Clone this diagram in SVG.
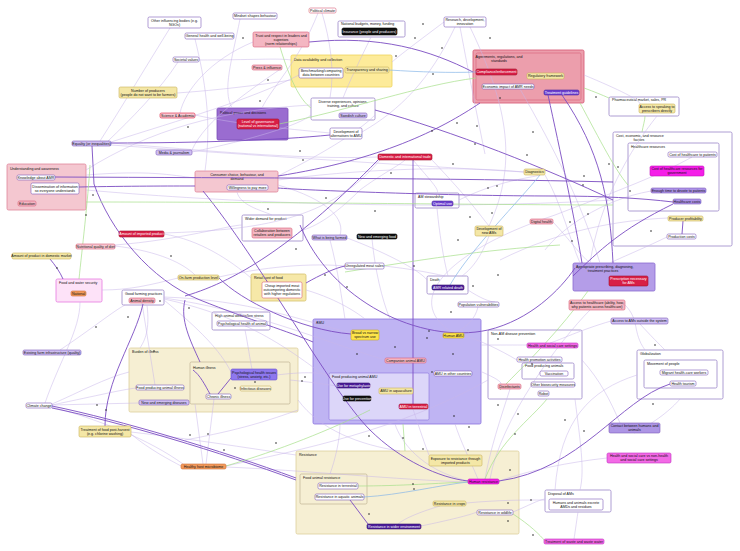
<svg xmlns="http://www.w3.org/2000/svg" width="740" height="551" viewBox="0 0 740 551">
<style>
text{font-family:"Liberation Sans",Arial,sans-serif;font-size:3.6px;fill:#111;text-anchor:middle}
.tl{text-anchor:start}
.tw{fill:#fff}
rect{stroke-width:.6}
.w{fill:#fff;stroke:#7d5bb8}
.wr{fill:#fff;stroke:#d9607a}
.wy{fill:#fbf5dc;stroke:#c9b260}
.pk{fill:#f4b6c2;stroke:#d9607a}
.pkr{fill:#f7c9d2;stroke:#e0203f}
.rd{fill:#d81f46;stroke:#a3102e}
.yl{fill:#f4e7a6;stroke:#c9b25a}
.ybr{fill:#fde44a;stroke:#c9a820}
.lp{fill:#cfbff2;stroke:#7d5bb8}
.lp2{fill:#ae94e8;stroke:#7d5bb8}
.mpl{fill:#8e78ee;stroke:#6a4fd0}
.mp{fill:#6a3fd0;stroke:#4b2aa0}
.dp{fill:#4a1c98;stroke:#331070}
.mg{fill:#f36ae6;stroke:#c030c0}
.mgb{fill:#f51ee8;stroke:#c010b8}
.bk{fill:#111;stroke:#000}
.or{fill:#f29a5c;stroke:#cf6f35}
.cpk{fill:#f4c7d0;stroke:#e0879a;stroke-width:.8}
.cag{fill:#ec9eac;stroke:#d9607a;stroke-width:.9}
.cyl{fill:#fdeb9a;stroke:#eed35a;stroke-width:.8}
.cyl2{fill:#f6e8a8;stroke:#d6c270;stroke-width:.8}
.cpu{fill:#9a6cd0;stroke:#7b4fb8;stroke-width:.8}
.cw{fill:#fff;stroke:#9a85c8;stroke-width:.8}
.cam{fill:#bfb4f3;stroke:#8a72dd;stroke-width:.8}
.cam2{fill:#dcd6f9;stroke:#8a72dd;stroke-width:.6}
.cbg{fill:#f6efd3;stroke:#ddcf9c;stroke-width:.8}
.cbg2{fill:#f6efd3;stroke:#b9a98a;stroke-width:.6}
.cfw{fill:#fde2f8;stroke:#e67ae0;stroke-width:.8}
.cap{fill:#b49de8;stroke:#8a6bd0;stroke-width:.8}
.cp{fill:#ad95e5;stroke:#7d5bb8}
.l{fill:none;stroke:#c8b6ea;stroke-width:.6;opacity:.85}
.d{fill:none;stroke:#7a4cc2;stroke-width:.9}
.g{fill:none;stroke:#a6e08a;stroke-width:.7}
.b{fill:none;stroke:#86b6e8;stroke-width:.7}
.dot{fill:#222}
</style>

<!-- containers -->
<g id="c-understanding"><rect class="cpk" x="7" y="164" width="79" height="46" rx="1.5"/><text class="tl" x="10" y="169.5">Understanding and awareness</text></g>
<g id="c-political"><rect class="cpu" x="217" y="108" width="71" height="32" rx="1.5"/><text class="tl" x="220" y="113.5">Political power and decisions</text></g>
<g id="c-data"><rect class="cyl" x="291" y="55" width="101" height="32" rx="1.5"/><text class="tl" x="294" y="60.5">Data availability and collection</text></g>
<g id="c-agreements"><rect class="cag" x="473" y="50" width="111" height="53" rx="1.5"/><rect x="476" y="53" width="105" height="47" rx="1.5" fill="none" stroke="#d9607a" stroke-width=".5"/><text x="499" y="57.5">Agreements, regulations, and</text><text x="499" y="61.7">standards</text></g>
<g id="c-budgets"><rect class="cw" x="338" y="21" width="67" height="16" rx="1.5"/><text class="tl" x="341" y="25.3">National budgets, money, funding</text></g>
<g id="c-diverse"><rect class="cw" x="311" y="98" width="64" height="22" rx="1.5"/><text x="343" y="102.5">Diverse experiences, opinions,</text><text x="343" y="106.7">training, and culture</text></g>
<g id="c-consumer"><rect class="cpk" x="195" y="171" width="83" height="21" rx="1.5"/><text x="237" y="175.5">Consumer choice, behaviour, and</text><text x="237" y="179.7">demand</text></g>
<g id="c-pharma"><rect class="cw" x="609" y="97" width="70" height="19" rx="1.5"/><text class="tl" x="612" y="101.3">Pharmaceutical market, sales, PR</text></g>
<g id="c-cost"><rect class="cw" x="613" y="132" width="119" height="114" rx="1.5"/><text class="tl" x="616" y="136.5">Cost, economic, and resource</text><text x="639" y="140.7">factors</text></g>
<g id="c-healthres"><rect class="cw" x="628" y="143" width="91" height="68" rx="1.5"/><text class="tl" x="631" y="147.5">Healthcare resources</text></g>
<g id="c-wider"><rect class="cw" x="242" y="215" width="61" height="26" rx="1.5"/><text class="tl" x="245" y="219.5">Wider demand for product</text></g>
<g id="c-foodwater"><rect class="cfw" x="56" y="279" width="46" height="23" rx="1.5"/><text class="tl" x="59" y="283.5">Food and water security</text></g>
<g id="c-goodfarm"><rect class="cw" x="122" y="290" width="42" height="15" rx="1.5"/><text class="tl" x="125" y="294.5">Good farming practices</text></g>
<g id="c-retail"><rect class="cyl2" x="251" y="274" width="55" height="27" rx="1.5"/><text class="tl" x="254" y="278.5">Retail cost of food</text></g>
<g id="c-amstew"><rect class="cw" x="415" y="193" width="44" height="15" rx="1.5"/><text class="tl" x="418" y="197.5">AM stewardship</text></g>
<g id="c-death"><rect class="cw" x="427" y="276" width="41" height="18" rx="1.5"/><text class="tl" x="430" y="280.5">Death</text></g>
<g id="c-approp"><rect class="cap" x="573" y="263" width="82" height="28" rx="1.5"/><text class="tl" x="576" y="267.5">Appropriate prescribing, diagnosing,</text><text x="603" y="271.7">treatment practices</text></g>
<g id="c-global"><rect class="cw" x="637" y="350" width="86" height="49" rx="1.5"/><text class="tl" x="640" y="354.5">Globalization</text></g>
<g id="c-movement"><rect class="cw" x="644" y="360" width="73" height="28" rx="1.5"/><text class="tl" x="647" y="364.5">Movement of people</text></g>
<g id="c-welfare"><rect class="cw" x="212" y="312" width="58" height="18" rx="1.5"/><text class="tl" x="215" y="316.5">High animal welfare/low stress</text></g>
<g id="c-burden"><rect class="cbg" x="129" y="348" width="169" height="64" rx="1.5"/><text class="tl" x="132" y="352.5">Burden of illness</text></g>
<g id="c-human"><rect class="cbg2" x="190" y="362" width="100" height="42" rx="1.5"/><text class="tl" x="193" y="368.5">Human illness</text></g>
<g id="c-amu"><rect class="cam" x="313" y="319" width="168" height="105" rx="1.5"/><text class="tl" x="316" y="323.5">AMU</text></g>
<g id="c-fpamu"><rect class="cam2" x="329" y="373" width="100" height="47" rx="1.5"/><text class="tl" x="332" y="377.5">Food producing animal AMU</text></g>
<g id="c-nonam"><rect class="cw" x="488" y="330" width="94" height="69" rx="1.5"/><text class="tl" x="491" y="334.5">Non-AM disease prevention</text></g>
<g id="c-fpa"><rect class="cw" x="522" y="363" width="52" height="16" rx="1.5"/><text class="tl" x="525" y="367.3">Food producing animals</text></g>
<g id="c-resistance"><rect class="cbg" x="296" y="451" width="223" height="83" rx="1.5"/><text class="tl" x="299" y="455.5">Resistance</text></g>
<g id="c-foodres"><rect class="cbg2" x="300" y="474" width="67" height="30" rx="1.5"/><text class="tl" x="303" y="478.5">Food animal resistance</text></g>
<g id="c-disposal"><rect class="cw" x="545" y="490" width="66" height="22" rx="1.5"/><text class="tl" x="548" y="494.5">Disposal of AMs</text></g>

<!-- connectors -->
<g id="connectors">
<path class="l" d="M170 28 C150 60 120 110 100 141"/>
<path class="l" d="M178 62 C160 90 130 120 108 141"/>
<path class="l" d="M195 39 C205 80 212 120 205 171"/>
<path class="l" d="M240 19 C232 60 222 90 232 108"/>
<path class="l" d="M253 42 C210 60 185 90 180 113"/>
<path class="l" d="M322 13 C330 40 335 70 330 98"/>
<path class="l" d="M318 13 C300 60 270 90 262 108"/>
<path class="l" d="M371 37 C360 60 350 80 343 98"/>
<path class="l" d="M444 22 C420 40 400 55 392 62"/>
<path class="l" d="M460 27 C470 80 478 120 485 154"/>
<path class="l" d="M455 27 C430 80 400 110 362 132"/>
<path class="l" d="M470 27 C505 100 520 160 489 226"/>
<path class="l" d="M282 68 C250 90 205 120 192 150"/>
<path class="l" d="M195 115 C240 125 300 130 330 133"/>
<path class="l" d="M111 143 C200 150 300 160 378 157"/>
<path class="l" d="M111 145 C250 155 400 165 524 172"/>
<path class="l" d="M86 175 C150 170 170 175 195 178"/>
<path class="l" d="M86 190 C200 200 400 212 613 200"/>
<path class="l" d="M278 180 C350 170 450 165 524 172"/>
<path class="l" d="M278 185 C330 200 345 220 340 235"/>
<path class="l" d="M237 192 C240 205 260 210 272 215"/>
<path class="l" d="M164 234 C200 240 230 260 251 278"/>
<path class="l" d="M164 233 C260 230 330 220 380 160"/>
<path class="l" d="M115 246 C150 250 180 260 195 275"/>
<path class="l" d="M115 245 C180 240 230 225 242 225"/>
<path class="l" d="M219 277 C250 270 300 262 345 266"/>
<path class="l" d="M102 290 C130 290 150 285 178 278"/>
<path class="l" d="M80 302 C80 330 60 360 45 403"/>
<path class="l" d="M60 350 C90 330 115 310 125 305"/>
<path class="l" d="M52 405 C100 395 120 390 136 388"/>
<path class="l" d="M52 405 L139 403"/>
<path class="l" d="M52 404 C80 392 105 378 129 372"/>
<path class="l" d="M52 407 C100 420 150 440 183 464"/>
<path class="l" d="M131 432 C200 440 260 450 296 455"/>
<path class="l" d="M131 434 C150 450 170 460 181 466"/>
<path class="l" d="M226 466 C300 450 400 430 488 380"/>
<path class="l" d="M203 464 L195 404"/>
<path class="l" d="M206 464 L214 399"/>
<path class="l" d="M245 330 C248 345 250 360 252 369"/>
<path class="l" d="M164 300 C200 330 220 350 231 372"/>
<path class="l" d="M164 297 C250 300 300 320 351 333"/>
<path class="l" d="M164 298 C250 310 320 340 385 360"/>
<path class="l" d="M164 299 C260 320 300 360 329 378"/>
<path class="l" d="M147 305 C150 330 145 340 140 348"/>
<path class="l" d="M142 303 L155 385"/>
<path class="l" d="M306 290 C340 300 360 315 365 319"/>
<path class="l" d="M372 239 C375 270 382 300 390 319"/>
<path class="l" d="M330 240 C338 270 342 300 345 319"/>
<path class="l" d="M437 208 C440 240 445 265 448 276"/>
<path class="l" d="M459 200 C500 180 530 178 540 175"/>
<path class="l" d="M489 236 C480 260 470 270 462 276"/>
<path class="l" d="M478 307 C475 320 465 328 455 333"/>
<path class="l" d="M468 290 C480 298 490 302 495 302"/>
<path class="l" d="M553 222 C570 240 580 255 590 263"/>
<path class="l" d="M520 89 C555 150 580 200 600 263"/>
<path class="l" d="M545 175 C560 200 570 240 580 263"/>
<path class="l" d="M625 305 C640 320 632 332 645 350"/>
<path class="l" d="M640 324 C650 335 660 345 665 350"/>
<path class="l" d="M590 310 C560 340 500 420 490 479"/>
<path class="l" d="M637 375 C590 390 560 420 555 490"/>
<path class="l" d="M634 433 C660 420 675 405 680 399"/>
<path class="l" d="M607 458 C570 462 530 470 499 481"/>
<path class="l" d="M582 360 C600 380 610 400 620 423"/>
<path class="l" d="M575 399 C580 440 585 470 580 490"/>
<path class="l" d="M578 512 C576 525 575 533 574 539"/>
<path class="l" d="M466 503 C500 500 520 500 545 500"/>
<path class="l" d="M513 512 C530 505 538 500 545 499"/>
<path class="l" d="M421 526 C450 520 470 515 477 512"/>
<path class="l" d="M440 506 C420 512 405 518 398 524"/>
<path class="l" d="M413 409 C420 430 425 445 429 455"/>
<path class="l" d="M395 424 C400 440 420 470 468 481"/>
<path class="l" d="M455 424 C460 440 470 460 478 479"/>
<path class="l" d="M340 424 C340 440 335 460 330 474"/>
<path class="l" d="M510 389 C500 420 490 450 485 479"/>
<path class="l" d="M517 360 C500 350 480 340 464 336"/>
<path class="l" d="M481 345 C500 345 515 345 527 345"/>
<path class="l" d="M482 372 C500 380 505 384 498 386"/>
<path class="l" d="M290 380 C310 382 330 385 337 386"/>
<path class="l" d="M277 375 C300 372 320 372 329 375"/>
<path class="l" d="M298 400 C320 430 360 445 400 451"/>
<path class="l" d="M226 467 C300 470 400 480 468 482"/>
<path class="l" d="M185 440 C240 430 270 420 298 410"/>
<path class="l" d="M611 321 C580 330 560 340 550 343"/>
<path class="l" d="M657 116 C630 150 600 200 590 263"/>
<path class="l" d="M584 75 C620 90 640 100 640 104"/>
<path class="l" d="M692 157 C660 175 620 190 555 215 C450 250 400 300 453 333"/>
<path class="l" d="M651 191 C600 200 560 230 545 250"/>
<path class="l" d="M667 237 C640 250 620 258 610 263"/>
<path class="l" d="M668 218 C620 220 560 230 500 260"/>
<path class="l" d="M86 170 C150 130 220 110 311 105"/>
<path class="l" d="M111 142 C180 120 250 100 299 75"/>
<path class="l" d="M192 152 C250 140 300 125 311 115"/>
<path class="l" d="M177 93 C220 90 260 85 291 80"/>
<path class="l" d="M198 60 C250 60 280 58 291 60"/>
<path class="l" d="M278 176 C330 150 360 130 375 115"/>
<path class="l" d="M347 238 C380 250 420 270 427 280"/>
<path class="l" d="M384 266 C420 270 440 275 445 276"/>
<path class="l" d="M413 160 C430 180 440 190 437 193"/>
<path class="l" d="M432 160 C470 200 480 215 489 226"/>
<path class="l" d="M303 230 C320 225 340 210 360 190 C380 175 400 165 405 160"/>
<path class="d" d="M55 177 C250 178 450 178 613 182"/>
<path class="d" d="M111 143 C200 143 280 140 330 135"/>
<path class="d" d="M92 146 L94 184 C110 230 150 280 200 300 C250 320 290 332 313 342"/>
<path class="d" d="M203 191 C260 260 330 390 370 430 C400 460 440 478 468 481"/>
<path class="d" d="M185 296 C240 280 300 240 378 160"/>
<path class="d" d="M306 283 C320 275 335 268 345 266"/>
<path class="d" d="M351 334 C300 330 240 300 219 278"/>
<path class="d" d="M309 42 C380 35 430 50 473 72"/>
<path class="d" d="M480 103 C440 130 380 160 278 176"/>
<path class="d" d="M375 110 C450 130 550 170 613 200"/>
<path class="d" d="M548 95 C560 150 575 220 582 263"/>
<path class="d" d="M562 95 C600 150 610 200 613 263"/>
<path class="d" d="M673 202 C640 198 600 196 555 196 C450 196 300 190 278 188"/>
<path class="d" d="M573 276 C600 250 620 230 673 204"/>
<path class="d" d="M300 225 C330 300 420 345 488 330 C530 320 560 290 575 268"/>
<path class="d" d="M499 481 C580 470 620 400 670 384"/>
<path class="d" d="M52 406 C120 420 220 450 296 478"/>
<path class="d" d="M52 408 C120 422 220 452 296 480" stroke-width=".5"/>
<path class="d" d="M683 221 L682 234"/>
<path class="d" d="M50 259 C55 265 60 272 63 279"/>
<path class="d" d="M413 160 L413 404" stroke-width=".6"/>
<path class="d" d="M143 304 C135 340 105 380 105 426"/>
<path class="d" d="M218 394 L231 378"/>
<path class="d" d="M193 370 C200 375 205 385 210 394"/>
<path class="d" d="M350 500 C356 508 362 516 368 524"/>
<path class="d" d="M200 362 C190 340 180 320 185 300"/>
<path class="d" d="M79 187 C130 186 170 186 195 186" stroke-width=".7"/>
<path class="g" d="M279 124 C350 110 420 85 476 78"/>
<path class="g" d="M90 165 C88 200 82 250 79 279"/>
<path class="g" d="M86 202 C300 202 500 205 613 205"/>
<path class="g" d="M584 88 C595 92 602 95 609 98"/>
<path class="g" d="M580 103 C600 140 615 170 628 185"/>
<path class="g" d="M645 116 C645 120 643 126 642 132"/>
<path class="g" d="M358 486 C400 486 440 483 468 482"/>
<path class="g" d="M485 479 C500 440 530 420 547 399"/>
<path class="g" d="M513 514 C530 525 540 535 545 541"/>
<path class="g" d="M280 47 C290 80 300 100 311 108" stroke-width=".5"/>
<path class="g" d="M345 272 C420 260 480 250 560 245" stroke-width=".5"/>
<path class="g" d="M403 424 L405 451"/>
<path class="g" d="M226 466 C280 450 330 430 370 410" stroke-width=".5"/>
<path class="g" d="M588 291 C560 330 530 360 500 390" stroke-width=".5"/>
<path class="b" d="M389 70 C420 72 450 73 476 72"/>
<path class="b" d="M364 497 C400 495 440 485 468 482"/>
<path class="b" d="M540 175 C520 200 470 250 450 285" stroke-width=".5"/>
<g id="arrowheads" class="dot">
<circle cx="175" cy="95" r=".8"/><circle cx="243" cy="38" r=".8"/><circle cx="268" cy="80" r=".8"/><circle cx="260" cy="101" r=".8"/><circle cx="188" cy="127" r=".8"/><circle cx="300" cy="151" r=".8"/><circle cx="303" cy="160" r=".8"/>
<circle cx="423" cy="24" r=".8"/><circle cx="415" cy="38" r=".8"/><circle cx="442" cy="48" r=".8"/><circle cx="490" cy="38" r=".8"/><circle cx="433" cy="74" r=".8"/><circle cx="500" cy="98" r=".8"/><circle cx="396" cy="56" r=".8"/><circle cx="477" cy="126" r=".8"/><circle cx="432" cy="131" r=".8"/><circle cx="475" cy="144" r=".8"/><circle cx="527" cy="155" r=".8"/><circle cx="533" cy="132" r=".8"/><circle cx="453" cy="164" r=".8"/><circle cx="457" cy="123" r=".8"/><circle cx="391" cy="173" r=".8"/>
<circle cx="596" cy="97" r=".8"/><circle cx="609" cy="164" r=".8"/><circle cx="618" cy="167" r=".8"/><circle cx="584" cy="176" r=".8"/>
<circle cx="86" cy="215" r=".8"/><circle cx="171" cy="256" r=".8"/><circle cx="57" cy="268" r=".8"/><circle cx="96" cy="327" r=".8"/><circle cx="128" cy="317" r=".8"/><circle cx="154" cy="351" r=".8"/><circle cx="160" cy="301" r=".8"/><circle cx="93" cy="195" r=".8"/>
<circle cx="326" cy="198" r=".8"/><circle cx="268" cy="209" r=".8"/><circle cx="296" cy="249" r=".8"/><circle cx="325" cy="275" r=".8"/><circle cx="189" cy="308" r=".8"/><circle cx="357" cy="354" r=".8"/><circle cx="347" cy="287" r=".8"/>
<circle cx="488" cy="188" r=".8"/><circle cx="497" cy="186" r=".8"/><circle cx="492" cy="213" r=".8"/><circle cx="470" cy="217" r=".8"/><circle cx="458" cy="240" r=".8"/><circle cx="414" cy="266" r=".8"/><circle cx="498" cy="275" r=".8"/><circle cx="473" cy="286" r=".8"/><circle cx="451" cy="312" r=".8"/><circle cx="429" cy="331" r=".8"/><circle cx="427" cy="338" r=".8"/><circle cx="395" cy="347" r=".8"/><circle cx="453" cy="354" r=".8"/><circle cx="498" cy="339" r=".8"/><circle cx="532" cy="364" r=".8"/><circle cx="375" cy="211" r=".8"/>
<circle cx="570" cy="222" r=".8"/><circle cx="572" cy="241" r=".8"/><circle cx="651" cy="231" r=".8"/><circle cx="630" cy="191" r=".8"/><circle cx="588" cy="214" r=".8"/><circle cx="583" cy="185" r=".8"/><circle cx="655" cy="345" r=".8"/>
<circle cx="97" cy="405" r=".8"/><circle cx="106" cy="410" r=".8"/>
<circle cx="190" cy="435" r=".8"/><circle cx="224" cy="450" r=".8"/><circle cx="208" cy="434" r=".8"/><circle cx="276" cy="443" r=".8"/><circle cx="255" cy="382" r=".8"/><circle cx="235" cy="388" r=".8"/><circle cx="302" cy="381" r=".8"/><circle cx="305" cy="377" r=".8"/><circle cx="369" cy="436" r=".8"/><circle cx="369" cy="514" r=".8"/>
<circle cx="454" cy="416" r=".8"/><circle cx="432" cy="372" r=".8"/><circle cx="469" cy="427" r=".8"/><circle cx="403" cy="438" r=".8"/><circle cx="423" cy="449" r=".8"/><circle cx="413" cy="484" r=".8"/><circle cx="414" cy="489" r=".8"/><circle cx="510" cy="470" r=".8"/><circle cx="508" cy="503" r=".8"/><circle cx="508" cy="521" r=".8"/><circle cx="531" cy="500" r=".8"/><circle cx="498" cy="405" r=".8"/><circle cx="518" cy="414" r=".8"/><circle cx="515" cy="434" r=".8"/><circle cx="468" cy="450" r=".8"/><circle cx="533" cy="535" r=".8"/>
<circle cx="565" cy="420" r=".8"/><circle cx="584" cy="431" r=".8"/><circle cx="653" cy="404" r=".8"/>
</g>
</g>

<!-- nodes -->
<g id="n-ngos"><rect class="w" x="148" y="17" width="53" height="11" rx="1.5"/><text x="174.5" y="21.7">Other influencing bodies (e.g.</text><text x="174.5" y="25.8">NGOs)</text></g>
<g id="n-mindset"><rect class="w" x="233" y="13" width="44" height="6" rx="1.5"/><text x="255" y="17.3">Mindset shapes behaviour</text></g>
<g id="n-polclimate"><rect class="wr" x="309" y="8" width="27" height="5" rx="1.5"/><text x="322.5" y="11.8">Political climate</text></g>
<g id="n-research"><rect class="w" x="444" y="17" width="42" height="10" rx="1.5"/><text x="465" y="21.2">Research, development,</text><text x="465" y="25.3">innovation</text></g>
<g id="n-general"><rect class="w" x="185" y="33" width="49" height="6" rx="1.5"/><text x="209.5" y="37.3">General health and well-being</text></g>
<g id="n-trust"><rect class="pk" x="253" y="32" width="56" height="15" rx="1.5"/><text x="281" y="36.7">Trust and respect in leaders and</text><text x="281" y="40.8">superiors</text><text x="281" y="44.9">(norm relationships)</text></g>
<g id="n-societal"><rect class="w" x="173" y="57" width="26" height="5" rx="1.5"/><text x="186" y="60.8">Societal values</text></g>
<g id="n-producers"><rect class="yl" x="119" y="87" width="58" height="11" rx="1.5"/><text x="148" y="91.7">Number of producers</text><text x="148" y="95.8">(people do not want to be farmers)</text></g>
<g id="n-science"><rect class="pkr" x="160" y="113" width="35" height="5" rx="1.5"/><text x="177.5" y="116.8">Science &amp; Academia</text></g>
<g id="n-press"><rect class="pk" x="252" y="65" width="30" height="5" rx="1.5"/><text x="267" y="68.8">Press &amp; influence</text></g>
<g id="n-devalt"><rect class="w" x="330" y="128" width="32" height="11" rx="1.5"/><text x="346" y="132.7">Development of</text><text x="346" y="136.8">alternatives to AMU</text></g>
<g id="n-equality"><rect class="lp" x="72" y="141" width="39" height="5" rx="1.5"/><text x="91.5" y="144.8">Equality (or inequalities)</text></g>
<g id="n-media"><rect class="lp" x="156" y="150" width="36" height="5" rx="1.5"/><text x="174" y="153.8">Media &amp; journalism</text></g>
<g id="n-trade"><rect class="rd" x="378" y="154" width="54" height="6" rx="1.5"/><text class="tw" x="405" y="158.3">Domestic and international trade</text></g>
<g id="n-diagnostics"><rect class="yl" x="524" y="169" width="21" height="6" rx="1.5"/><text x="534.5" y="173.3">Diagnostics</text></g>
<g id="n-farmed"><rect class="lp" x="312" y="235" width="35" height="5" rx="1.5"/><text x="329.5" y="238.8">What is being farmed</text></g>
<g id="n-newfood"><rect class="bk" x="357" y="234" width="40" height="5" rx="1.5"/><text class="tw" x="377" y="237.8">New and emerging food</text></g>
<g id="n-imported"><rect class="rd" x="119" y="231" width="45" height="6" rx="1.5"/><text class="tw" x="141.5" y="235.3">Amount of imported product</text></g>
<g id="n-nutrition"><rect class="pkr" x="76" y="244" width="39" height="5" rx="1.5" style="stroke:#d9607a"/><text x="95.5" y="247.8">Nutritional quality of diet</text></g>
<g id="n-domestic"><rect class="yl" x="12" y="253" width="59" height="6" rx="1.5"/><text x="41.5" y="257.3">Amount of product in domestic market</text></g>
<g id="n-onfarm"><rect class="yl" x="178" y="275" width="41" height="5" rx="1.5"/><text x="198.5" y="278.8">On-farm production level</text></g>
<g id="n-unregulated"><rect class="w" x="345" y="263" width="39" height="6" rx="1.5"/><text x="364.5" y="267.3">Unregulated meat sales</text></g>
<g id="n-newams"><rect class="yl" x="475" y="226" width="28" height="10" rx="1.5"/><text x="489" y="230.2">Development of</text><text x="489" y="234.3">new AMs</text></g>
<g id="n-digital"><rect class="pk" x="530" y="219" width="23" height="5" rx="1.5"/><text x="541.5" y="222.8">Digital health</text></g>
<g id="n-popvuln"><rect class="w" x="458" y="302" width="41" height="5" rx="1.5"/><text x="478.5" y="305.8">Population vulnerabilities</text></g>
<g id="n-access"><rect class="pk" x="569" y="300" width="56" height="10" rx="1.5"/><text x="597" y="304.2">Access to healthcare (ability, how,</text><text x="597" y="308.3">why patients access healthcare)</text></g>
<g id="n-accessams"><rect class="lp" x="611" y="318" width="57" height="6" rx="1.5"/><text x="639.5" y="322.3">Access to AMs outside the system</text></g>
<g id="n-existing"><rect class="lp" x="23" y="350" width="58" height="5" rx="1.5"/><text x="52" y="353.8">Existing farm infrastructure (quality)</text></g>
<g id="n-climate"><rect class="w" x="26" y="403" width="26" height="5" rx="1.5"/><text x="39" y="406.8">Climate change</text></g>
<g id="n-posthar"><rect class="yl" x="79" y="426" width="52" height="11" rx="1.5"/><text x="105" y="430.7">Treatment of food post-harvest</text><text x="105" y="434.8">(e.g. chlorine washing)</text></g>
<g id="n-microbiome"><rect class="or" x="181" y="464" width="45" height="5" rx="1.5"/><text x="203.5" y="467.8">Healthy host microbiome</text></g>
<g id="n-contact"><rect class="cp" x="609" y="423" width="51" height="10" rx="1.5"/><text x="634.5" y="427.2">Contact between humans and</text><text x="634.5" y="431.3">animals</text></g>
<g id="n-hscvs"><rect class="mg" x="607" y="453" width="64" height="10" rx="1.5"/><text x="639" y="457.2">Health and social care vs non-health</text><text x="639" y="461.3">and social care settings</text></g>
<g id="n-knowledge"><rect class="w" x="17" y="175" width="38" height="5" rx="1.5"/><text x="36" y="178.8">Knowledge about AMR</text></g>
<g id="n-dissem"><rect class="w" x="31" y="183" width="48" height="11" rx="1.5"/><text x="55" y="187.7">Dissemination of information</text><text x="55" y="191.8">so everyone understands</text></g>
<g id="n-education"><rect class="pk" x="18" y="201" width="18" height="5" rx="1.5"/><text x="27" y="204.8">Education</text></g>
<g id="n-governance"><rect class="rd" x="237" y="119" width="42" height="10" rx="1.5"/><text class="tw" x="258" y="123.2">Level of governance</text><text class="tw" x="258" y="127.3">(national vs international)</text></g>
<g id="n-benchmark"><rect class="w" x="299" y="68" width="44" height="10" rx="1.5"/><text x="321" y="72.2">Benchmarking/comparing</text><text x="321" y="76.3">data between countries</text></g>
<g id="n-transparency"><rect class="yl" x="345" y="67" width="44" height="6" rx="1.5"/><text x="367" y="71.3">Transparency and sharing</text></g>
<g id="n-compliance"><rect class="rd" x="476" y="69" width="41" height="6" rx="1.5"/><text class="tw" x="496.5" y="73.3">Compliance/enforcement</text></g>
<g id="n-regulatory"><rect class="yl" x="527" y="73" width="37" height="6" rx="1.5"/><text x="545.5" y="77.3">Regulatory framework</text></g>
<g id="n-econimpact"><rect class="w" x="482" y="84" width="52" height="5" rx="1.5"/><text x="508" y="87.8">Economic impact of AMR needs</text></g>
<g id="n-guidelines"><rect class="mp" x="544" y="90" width="35" height="5" rx="1.5"/><text class="tw" x="561.5" y="93.8">Treatment guidelines</text></g>
<g id="n-insurance"><rect class="bk" x="342" y="28" width="55" height="7" rx="1.5"/><text class="tw" x="369.5" y="32.8">Insurance (people and producers)</text></g>
<g id="n-swedish"><rect class="lp" x="339" y="113" width="28" height="5" rx="1.5"/><text x="353" y="116.8">Swedish culture</text></g>
<g id="n-willing"><rect class="w" x="227" y="185" width="41" height="5" rx="1.5"/><text x="247.5" y="188.8">Willingness to pay more</text></g>
<g id="n-speaking"><rect class="yl" x="639" y="104" width="36" height="9" rx="1.5"/><text x="657" y="107.7">Access to speaking to</text><text x="657" y="111.8">prescribers directly</text></g>
<g id="n-costpatients"><rect class="w" x="668" y="152" width="49" height="5" rx="1.5"/><text x="692.5" y="155.8">Cost of healthcare to patients</text></g>
<g id="n-costgov"><rect class="mgb" x="650" y="166" width="54" height="10" rx="1.5"/><text x="677" y="170.2">Cost of healthcare resources for</text><text x="677" y="174.3">government</text></g>
<g id="n-time"><rect class="lp2" x="651" y="188" width="55" height="5" rx="1.5"/><text x="678.5" y="191.8">Enough time to devote to patients</text></g>
<g id="n-hccosts"><rect class="lp2" x="673" y="199" width="28" height="5" rx="1.5"/><text x="687" y="202.8">Healthcare costs</text></g>
<g id="n-profit"><rect class="yl" x="668" y="216" width="35" height="5" rx="1.5"/><text x="685.5" y="219.8">Producer profitability</text></g>
<g id="n-prodcosts"><rect class="w" x="667" y="234" width="29" height="5" rx="1.5"/><text x="681.5" y="237.8">Production costs</text></g>
<g id="n-collab"><rect class="pk" x="252" y="228" width="40" height="10" rx="1.5"/><text x="272" y="232.2">Collaboration between</text><text x="272" y="236.3">retailers and producers</text></g>
<g id="n-national"><rect class="or" x="71" y="291" width="15" height="5" rx="1.5"/><text x="78.5" y="294.8">National</text></g>
<g id="n-density"><rect class="pk" x="129" y="298" width="26" height="5" rx="1.5"/><text x="142" y="301.8">Animal density</text></g>
<g id="n-cheap"><rect class="wr" x="262" y="282" width="40" height="16" rx="1.5"/><text x="282" y="287.2">Cheap imported meat</text><text x="282" y="291.3">outcompeting domestic</text><text x="282" y="295.4">with higher regulations</text></g>
<g id="n-optimal"><rect class="mp" x="432" y="201" width="21" height="5" rx="1.5"/><text class="tw" x="442.5" y="204.8">Optimal use</text></g>
<g id="n-amrdeath"><rect class="dp" x="432" y="285" width="32" height="5" rx="1.5"/><text class="tw" x="448" y="288.8">AMR related death</text></g>
<g id="n-prescription"><rect class="rd" x="609" y="276" width="39" height="10" rx="1.5"/><text class="tw" x="628.5" y="280.2">Prescription necessary</text><text class="tw" x="628.5" y="284.3">for AMs</text></g>
<g id="n-migrant"><rect class="w" x="660" y="370" width="48" height="5" rx="1.5"/><text x="684" y="373.8">Migrant health-care workers</text></g>
<g id="n-tourism"><rect class="w" x="670" y="381" width="26" height="5" rx="1.5"/><text x="683" y="384.8">Health tourism</text></g>
<g id="n-psyanimal"><rect class="w" x="217" y="321" width="50" height="5" rx="1.5"/><text x="242" y="324.8">Psychological health of animal</text></g>
<g id="n-broad"><rect class="ybr" x="351" y="330" width="28" height="10" rx="1.5"/><text x="365" y="334.2">Broad vs narrow</text><text x="365" y="338.3">spectrum use</text></g>
<g id="n-humanamu"><rect class="ybr" x="443" y="333" width="21" height="5" rx="1.5"/><text x="453.5" y="336.8">Human AMU</text></g>
<g id="n-companion"><rect class="pk" x="385" y="358" width="41" height="5" rx="1.5"/><text x="405.5" y="361.8">Companion animal AMU</text></g>
<g id="n-othercountries"><rect class="w" x="434" y="371" width="38" height="5" rx="1.5"/><text x="453" y="374.8">AMU in other countries</text></g>
<g id="n-metaphylaxis"><rect class="dp" x="337" y="383" width="33" height="5" rx="1.5"/><text class="tw" x="353.5" y="386.8">Use for metaphylaxis</text></g>
<g id="n-prevention"><rect class="bk" x="343" y="396" width="28" height="5" rx="1.5"/><text class="tw" x="357" y="399.8">Use for prevention</text></g>
<g id="n-aquaculture"><rect class="yl" x="379" y="388" width="34" height="6" rx="1.5"/><text x="396" y="392.3">AMU in aquaculture</text></g>
<g id="n-terrestrial"><rect class="rd" x="399" y="404" width="29" height="5" rx="1.5"/><text class="tw" x="413.5" y="407.8">AMU in terrestrial</text></g>
<g id="n-hscsettings"><rect class="mg" x="527" y="343" width="51" height="5" rx="1.5"/><text x="552.5" y="346.8">Health and social care settings</text></g>
<g id="n-promotion"><rect class="w" x="517" y="357" width="45" height="5" rx="1.5"/><text x="539.5" y="360.8">Health promotion activities</text></g>
<g id="n-vaccination"><rect class="w" x="540" y="371" width="28" height="5" rx="1.5"/><text x="554" y="374.8">Vaccination</text></g>
<g id="n-biosecurity"><rect class="w" x="531" y="382" width="44" height="5" rx="1.5"/><text x="553" y="385.8">Other biosecurity measures</text></g>
<g id="n-robot"><rect class="w" x="538" y="391" width="11" height="5" rx="1.5"/><text x="543.5" y="394.8">Robot</text></g>
<g id="n-disinfectants"><rect class="pk" x="498" y="384" width="23" height="5" rx="1.5"/><text x="509.5" y="387.8">Disinfectants</text></g>
<g id="n-psyhuman"><rect class="mpl" x="231" y="369" width="46" height="11" rx="1.5"/><text x="254" y="373.7">Psychological health issues</text><text x="254" y="377.8">(stress, anxiety, etc.)</text></g>
<g id="n-infectious"><rect class="wy" x="240" y="386" width="31" height="5" rx="1.5"/><text x="255.5" y="389.8">Infectious diseases</text></g>
<g id="n-chronic"><rect class="w" x="206" y="394" width="25" height="5" rx="1.5"/><text x="218.5" y="397.8">Chronic illness</text></g>
<g id="n-fpaillness"><rect class="w" x="136" y="385" width="48" height="5" rx="1.5"/><text x="160" y="388.8">Food producing animal illness</text></g>
<g id="n-emerging"><rect class="lp" x="139" y="400" width="50" height="5" rx="1.5"/><text x="164" y="403.8">New and emerging diseases</text></g>
<g id="n-resterr"><rect class="w" x="318" y="483" width="40" height="6" rx="1.5"/><text x="338" y="487.3">Resistance in terrestrial</text></g>
<g id="n-resaqua"><rect class="w" x="315" y="494" width="49" height="6" rx="1.5"/><text x="339.5" y="498.3">Resistance in aquatic animals</text></g>
<g id="n-exposure"><rect class="yl" x="429" y="455" width="53" height="11" rx="1.5"/><text x="455.5" y="459.7">Exposure to resistance through</text><text x="455.5" y="463.8">imported products</text></g>
<g id="n-humanres"><rect class="mgb" x="468" y="479" width="31" height="5" rx="1.5"/><text x="483.5" y="482.8">Human resistance</text></g>
<g id="n-crops"><rect class="yl" x="433" y="501" width="33" height="5" rx="1.5"/><text x="449.5" y="504.8">Resistance in crops</text></g>
<g id="n-wildlife"><rect class="w" x="477" y="510" width="36" height="5" rx="1.5"/><text x="495" y="513.8">Resistance in wildlife</text></g>
<g id="n-widerenv"><rect class="dp" x="367" y="524" width="54" height="5" rx="1.5"/><text class="tw" x="394" y="527.8">Resistance in wider environment</text></g>
<g id="n-excrete"><rect class="w" x="549" y="499" width="54" height="11" rx="1.5"/><text x="576" y="503.7">Humans and animals excrete</text><text x="576" y="507.8">AMDs and residues</text></g>
<g id="n-waste"><rect class="mg" x="544" y="539" width="60" height="5" rx="1.5"/><text x="574" y="542.8">Treatment of waste and waste water</text></g>
</svg>
